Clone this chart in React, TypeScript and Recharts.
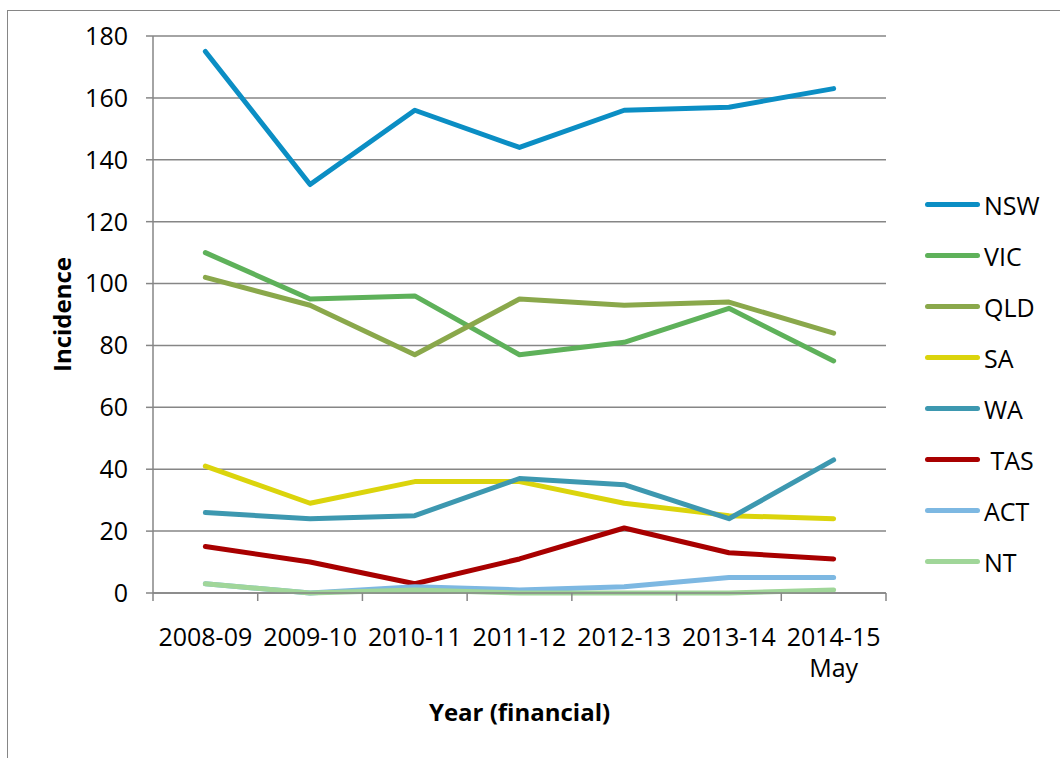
import { LineChart, Line, XAxis, YAxis, CartesianGrid, Label } from "recharts";

const years = ["2008-09", "2009-10", "2010-11", "2011-12", "2012-13", "2013-14", "2014-15 May"];
const yTicks = [0, 20, 40, 60, 80, 100, 120, 140, 160, 180];

const nsw = [175, 132, 156, 144, 156, 157, 163];
const vic = [110, 95, 96, 77, 81, 92, 75];
const qld = [102, 93, 77, 95, 93, 94, 84];
const sa = [41, 29, 36, 36, 29, 25, 24];
const wa = [26, 24, 25, 37, 35, 24, 43];
const tas = [15, 10, 3, 11, 21, 13, 11];
const act = [3, 0, 2, 1, 2, 5, 5];
const nt = [3, 0, 1, 0, 0, 0, 1];

const series = [
  { key: "NSW", label: "NSW", values: nsw, color: "#0b8ec4" },
  { key: "VIC", label: "VIC", values: vic, color: "#5eb15a" },
  { key: "QLD", label: "QLD", values: qld, color: "#8aa84b" },
  { key: "SA", label: "SA", values: sa, color: "#dbd40c" },
  { key: "WA", label: "WA", values: wa, color: "#3d98b0" },
  { key: "TAS", label: " TAS", values: tas, color: "#a80000" },
  { key: "ACT", label: "ACT", values: act, color: "#7db8e2" },
  { key: "NT", label: "NT", values: nt, color: "#a0d699" },
];

const data = years.map((year, i) => {
  const row: Record<string, number | string> = { i, year };
  series.forEach((s) => (row[s.key] = s.values[i]));
  return row;
});

// integer ticks carry the labels, half steps are the category edges
const xTicks = years.flatMap((_, i) => (i === 0 ? [i - 0.5, i, i + 0.5] : [i, i + 0.5]));

const FONT = "'Open Sans', sans-serif";
const GRID = "#868686";

const XTick = (props: any) => {
  const { x, y, payload } = props;
  const v = payload.value;
  if (!Number.isInteger(v)) {
    return <line x1={x} x2={x} y1={y} y2={y + 8} stroke={GRID} strokeWidth={1.5} />;
  }
  const lines = years[v].split(" ");
  return (
    <text x={x} y={y} textAnchor="middle" fontSize={25} fontFamily={FONT} fill="#000">
      {lines.map((l, k) => (
        <tspan key={k} x={x} dy={k === 0 ? 53 : 31}>
          {l}
        </tspan>
      ))}
    </text>
  );
};

export default function App() {
  return (
    <div style={{ position: "fixed", left: 0, top: 0, width: 1060, height: 758, background: "#fff", overflow: "hidden" }}>
      <div
        style={{
          position: "absolute",
          left: 7,
          top: 10,
          width: 1100,
          height: 800,
          border: `1.5px solid ${GRID}`,
        }}
      />
      <div style={{ position: "absolute", left: 0, top: 0 }}>
        <LineChart width={1060} height={758} data={data} margin={{ top: 36, right: 174, left: 0, bottom: 20 }}>
          <CartesianGrid vertical={false} stroke={GRID} strokeWidth={1.5} />
          <XAxis
            dataKey="i"
            type="number"
            domain={[-0.5, years.length - 0.5]}
            ticks={xTicks}
            interval={0}
            tick={<XTick />}
            tickLine={false}
            tickSize={0}
            tickMargin={0}
            axisLine={{ stroke: GRID, strokeWidth: 1.5 }}
            height={145}
          >
            <Label
              value="Year (financial)"
              position="insideBottom"
              offset={17}
              style={{ fontFamily: FONT, fontSize: 24, fontWeight: 700, fill: "#000" }}
            />
          </XAxis>
          <YAxis
            domain={[0, 180]}
            ticks={yTicks}
            interval={0}
            width={153}
            tickSize={7}
            tickMargin={18}
            tick={{ fontFamily: FONT, fontSize: 25, fill: "#000" }}
            tickLine={{ stroke: GRID, strokeWidth: 1.5 }}
            axisLine={{ stroke: GRID, strokeWidth: 1.5 }}
          >
            <Label
              value="Incidence"
              angle={-90}
              position="insideLeft"
              offset={62}
              style={{ fontFamily: FONT, fontSize: 24, fontWeight: 700, fill: "#000", textAnchor: "middle" }}
            />
          </YAxis>
          {series.map((s) => (
            <Line
              key={s.key}
              dataKey={s.key}
              type="linear"
              stroke={s.color}
              strokeWidth={5}
              strokeLinecap="round"
              strokeLinejoin="round"
              dot={false}
              activeDot={false}
              isAnimationActive={false}
            />
          ))}
        </LineChart>
      </div>
      <div style={{ position: "absolute", left: 925, top: 179, fontFamily: FONT, fontSize: 25, color: "#000" }}>
        {series.map((s) => (
          <div key={s.key} style={{ display: "flex", alignItems: "center", height: 51 }}>
            <div style={{ width: 55, height: 5, borderRadius: 3, background: s.color, marginRight: 4 }} />
            <span style={{ whiteSpace: "pre" }}>{s.label}</span>
          </div>
        ))}
      </div>
    </div>
  );
}
